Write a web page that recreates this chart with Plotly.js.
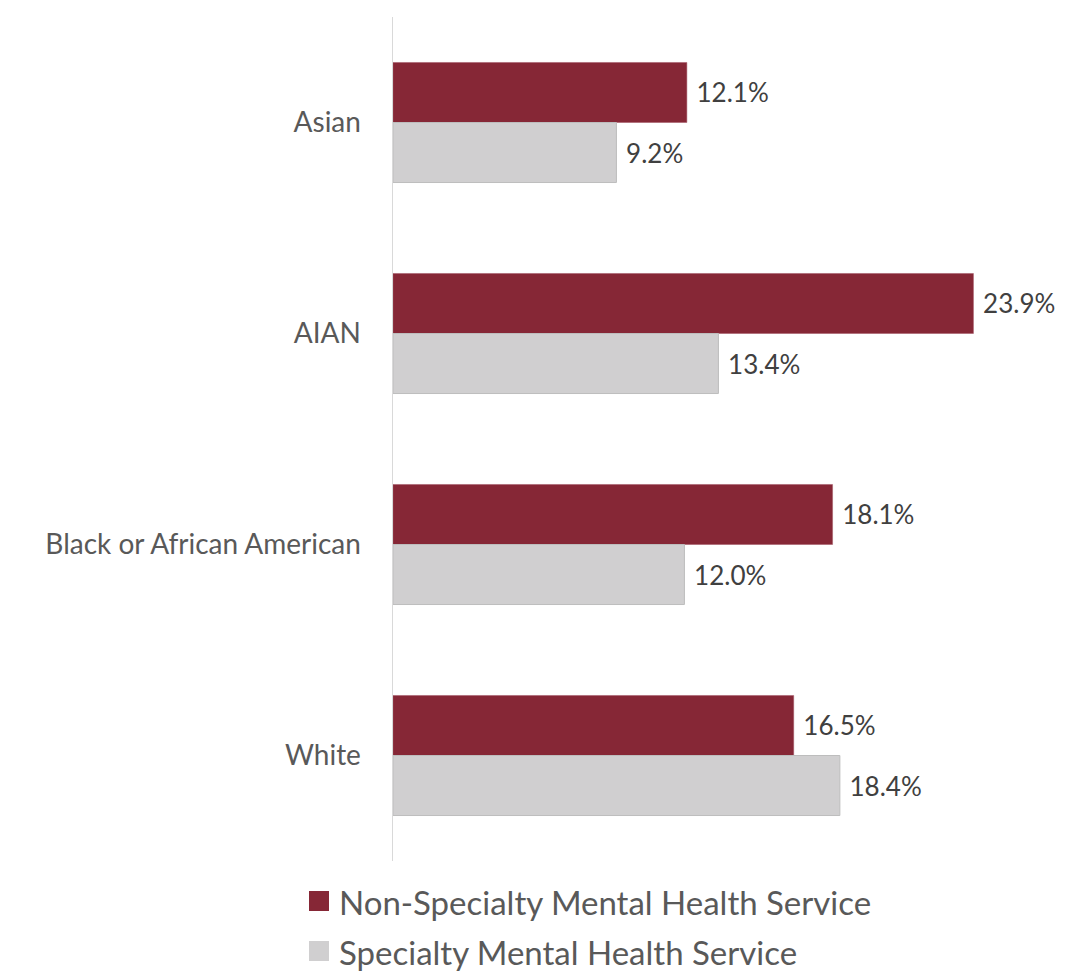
<!DOCTYPE html>
<html>
<head>
<meta charset="utf-8">
<script src="https://cdn.plot.ly/plotly-3.0.1.min.js"></script>
<style>
html,body{margin:0;padding:0;background:#fff;}
#chart{width:1084px;height:972px;}
</style>
</head>
<body>
<div id="chart"></div>
<script>
const categories = ["Asian", "AIAN", "Black or African American", "White"];
const seriesNames = ["Non-Specialty Mental Health Service", "Specialty Mental Health Service"];
const nonSpecialty = [12.1, 23.9, 18.1, 16.5];
const specialty = [9.2, 13.4, 12.0, 18.4];
const seriesColors = ["#862736", "#d0cfd0"];

const FONT = "Lato, 'Open Sans', sans-serif";

// plot geometry (pixels)
const L = 393, R = 11, T = 17, B = 111;
const W = 1084 - L - R, H = 972 - T - B;
const px = x => (x - L) / W;
const py = y => 1 - (y - T) / H;

function fmt(v){ return " " + v.toFixed(1) + "%"; }

const traces = [
  {
    type: "bar", orientation: "h", name: seriesNames[0],
    y: categories, x: nonSpecialty,
    text: nonSpecialty.map(fmt), textposition: "outside", cliponaxis: false,
    textfont: {family: FONT, size: 26, color: "#404040"},
    marker: {color: seriesColors[0], line: {color: "#a35463", width: 0.5}},
    hoverinfo: "skip"
  },
  {
    type: "bar", orientation: "h", name: seriesNames[1],
    y: categories, x: specialty,
    text: specialty.map(fmt), textposition: "outside", cliponaxis: false,
    textfont: {family: FONT, size: 26, color: "#404040"},
    marker: {color: seriesColors[1], line: {color: "#bdbdbd", width: 1}},
    hoverinfo: "skip"
  }
];

// manual legend (squares + text)
const legendRows = [901, 951];
const shapes = legendRows.map((cy, i) => ({
  type: "rect", xref: "paper", yref: "paper",
  x0: px(309), x1: px(329), y0: py(cy - 10), y1: py(cy + 10),
  fillcolor: seriesColors[i], line: {width: 0}
}));
const annotations = legendRows.map((cy, i) => ({
  xref: "paper", yref: "paper", x: px(337), y: py(cy + 1),
  xanchor: "left", yanchor: "middle", showarrow: false,
  text: seriesNames[i],
  font: {family: FONT, size: 33, color: "#595959"}
}));

const layout = {
  width: 1084, height: 972,
  margin: {l: L, r: R, t: T, b: B, autoexpand: false},
  paper_bgcolor: "#ffffff", plot_bgcolor: "#ffffff",
  barmode: "group", bargap: 0.431, bargroupgap: 0,
  font: {family: FONT, color: "#595959"},
  xaxis: {range: [0, 28], visible: false, fixedrange: true, automargin: false},
  yaxis: {
    autorange: "reversed", showline: true, linecolor: "#d9d9d9", linewidth: 1.5,
    ticks: "outside", ticklen: 25, tickcolor: "rgba(0,0,0,0)",
    tickfont: {family: FONT, size: 28, color: "#595959"},
    showgrid: false, zeroline: false, fixedrange: true, automargin: false
  },
  showlegend: false,
  shapes: shapes,
  annotations: annotations
};

Plotly.newPlot("chart", traces, layout, {displayModeBar: false, staticPlot: true});
</script>
</body>
</html>
